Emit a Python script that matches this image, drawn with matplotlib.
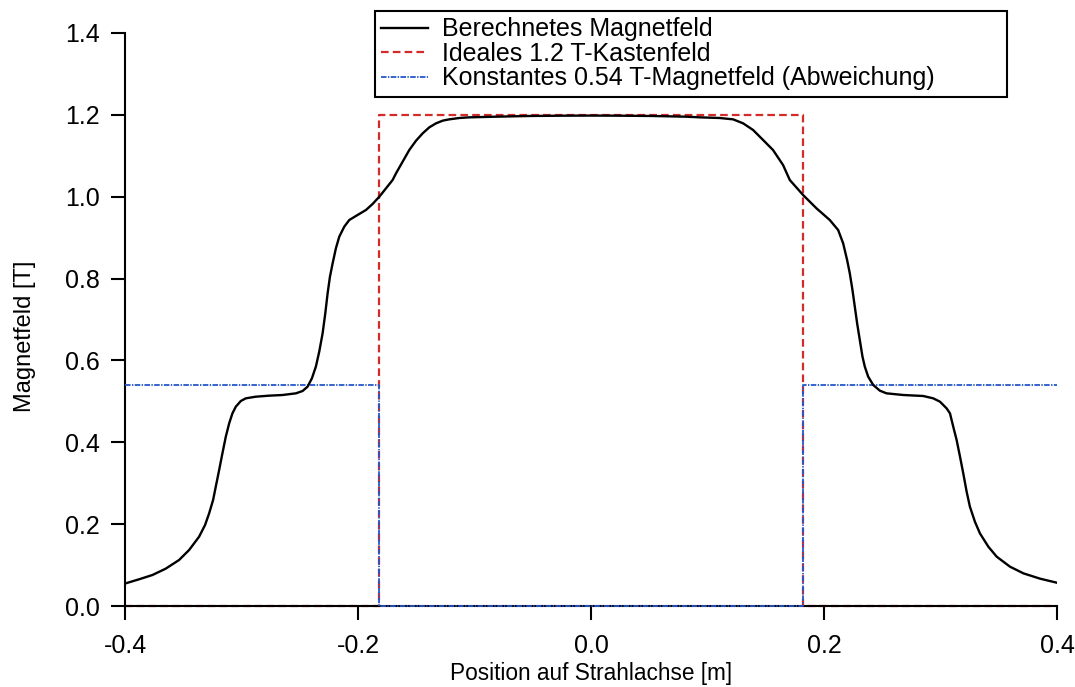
import numpy as np
import matplotlib
matplotlib.use("Agg")
import matplotlib.pyplot as plt

plt.rcParams['font.family'] = ['Liberation Sans', 'DejaVu Sans']
plt.rcParams['axes.unicode_minus'] = False
plt.rcParams['lines.scale_dashes'] = False

# berechnetes Feld entlang der Strahlachse (Position in m, Feld in T)
pos = [-0.3994, -0.3880, -0.3765, -0.3651, -0.3536, -0.3450, -0.3364, -0.3313,
       -0.3278, -0.3244, -0.3221, -0.3192, -0.3164, -0.3135, -0.3106, -0.3078,
       -0.3049, -0.3006, -0.2963, -0.2877, -0.2763, -0.2648, -0.2533, -0.2476,
       -0.2433, -0.2396, -0.2362, -0.2333, -0.2304, -0.2281, -0.2261, -0.2241,
       -0.2218, -0.2190, -0.2161, -0.2118, -0.2075, -0.2004, -0.1932, -0.1875,
       -0.1817, -0.1760, -0.1703, -0.1674, -0.1617, -0.1560, -0.1502, -0.1445,
       -0.1388, -0.1330, -0.1273, -0.1216, -0.1130, -0.1044, -0.0815, -0.0528,
       -0.0200, 0.0, 0.0200, 0.0528, 0.0815,
       0.0932, 0.1104, 0.1219, 0.1305, 0.1391, 0.1477, 0.1562, 0.1648,
       0.1706, 0.1820, 0.1935, 0.2049, 0.2121, 0.2164, 0.2198, 0.2221,
       0.2244, 0.2264, 0.2284, 0.2307, 0.2330, 0.2350, 0.2379, 0.2422,
       0.2479, 0.2536, 0.2680, 0.2851, 0.2937, 0.2995, 0.3052, 0.3081,
       0.3109, 0.3138, 0.3167, 0.3195, 0.3224, 0.3252, 0.3295, 0.3338,
       0.3410, 0.3482, 0.3596, 0.3711, 0.3854, 0.3997]
feld = [0.0554, 0.0652, 0.0757, 0.0912, 0.1124, 0.1368, 0.1694, 0.1979,
        0.2264, 0.2590, 0.2916, 0.3323, 0.3730, 0.4137, 0.4463, 0.4707,
        0.4870, 0.5009, 0.5074, 0.5114, 0.5139, 0.5155, 0.5196, 0.5253,
        0.5359, 0.5562, 0.5847, 0.6214, 0.6662, 0.7151, 0.7639, 0.8046,
        0.8372, 0.8739, 0.9024, 0.9268, 0.9431, 0.9553, 0.9675, 0.9822,
        1.0001, 1.0204, 1.0408, 1.0571, 1.0856, 1.1141, 1.1369, 1.1548,
        1.1695, 1.1793, 1.1858, 1.1890, 1.1923, 1.1939, 1.1955, 1.1972,
        1.1980, 1.1982, 1.1980, 1.1972, 1.1955,
        1.1939, 1.1923, 1.1890, 1.1793, 1.1630, 1.1385, 1.1141, 1.0775,
        1.0408, 1.0042, 0.9716, 0.9431, 0.9186, 0.8861, 0.8453, 0.8128,
        0.7720, 0.7313, 0.6906, 0.6499, 0.6092, 0.5847, 0.5603, 0.5400,
        0.5261, 0.5196, 0.5155, 0.5131, 0.5074, 0.4992, 0.4829, 0.4707,
        0.4381, 0.4056, 0.3649, 0.3241, 0.2793, 0.2427, 0.2060, 0.1775,
        0.1450, 0.1205, 0.0961, 0.0798, 0.0668, 0.0570]

# ideales Kastenfeld
kasten_x = [-0.4, -0.1817, -0.1817, 0.1817, 0.1817, 0.4]
kasten_y = [0.0, 0.0, 1.2, 1.2, 0.0, 0.0]

# konstantes Feld ausserhalb
konst_x = [-0.4, -0.1817, -0.1817, 0.1817, 0.1817, 0.4]
konst_y = [0.54, 0.54, 0.0, 0.0, 0.54, 0.54]

fig = plt.figure(figsize=(10.75, 6.87), dpi=100)
ax = fig.add_axes([0.1163, 0.1179, 0.8670, 0.8341])

l2, = ax.plot(kasten_x, kasten_y, color='#d42a2a', lw=1.6,
              linestyle=(0, (5.5, 3)), clip_on=False, zorder=2,
              label='Ideales 1.2 T-Kastenfeld')
l3, = ax.plot(konst_x, konst_y, color='#2457c8', lw=1.3,
              linestyle=(0, (4, 1, 1, 1)), clip_on=False, zorder=3,
              label='Konstantes 0.54 T-Magnetfeld (Abweichung)')
l1, = ax.plot(pos, feld, color='black', lw=1.7, zorder=4,
              label='Berechnetes Magnetfeld')

ax.set_xlim(-0.4, 0.4)
ax.set_ylim(0, 1.4)
ax.set_xticks([-0.4, -0.2, 0.0, 0.2, 0.4])
ax.set_xticklabels(['-0.4', '-0.2', '0.0', '0.2', '0.4'])
ax.set_yticks(np.arange(0, 1.41, 0.2))
ax.set_yticklabels(['%.1f' % v for v in np.arange(0, 1.41, 0.2)])

for s in ['top', 'right']:
    ax.spines[s].set_visible(False)
for s in ['left', 'bottom']:
    ax.spines[s].set_linewidth(1.5)

ax.tick_params(axis='both', direction='out', length=10, width=1.5,
               labelsize=18)
ax.tick_params(axis='x', pad=10)
ax.tick_params(axis='y', pad=8)

ax.set_xlabel('Position auf Strahlachse [m]', fontsize=16.3, labelpad=3)
ax.set_ylabel('Magnetfeld [T]', fontsize=17)
ax.yaxis.set_label_coords(-0.096, 0.47)

# Legende ueber dem Diagramm, Rahmen breiter als der Text
leg = ax.legend(handles=[l1, l2, l3], loc='upper left',
                bbox_to_anchor=(375 / 1075, 1 - 11 / 687, 632 / 1075, 0.0),
                bbox_transform=fig.transFigure, mode='expand', fontsize=18,
                frameon=True, fancybox=False, framealpha=1,
                borderpad=0.25, labelspacing=0.02, handlelength=1.85,
                handletextpad=0.6, borderaxespad=0)
leg.get_frame().set_edgecolor('black')
leg.get_frame().set_linewidth(1.5)

fig.savefig('out.png', dpi=100)
